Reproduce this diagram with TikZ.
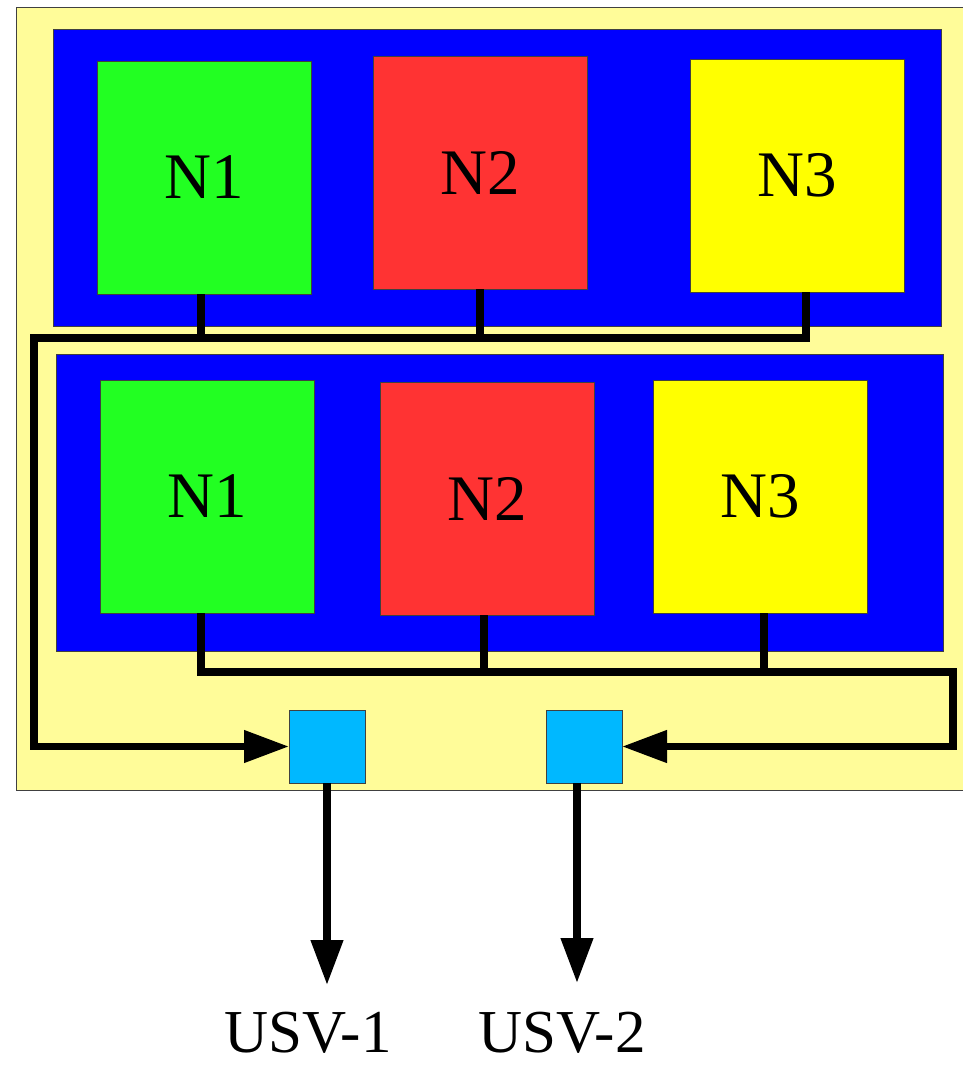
\documentclass[tikz,border=0pt]{standalone}
\usepackage{fontspec}
\setmainfont{Liberation Serif}
\usetikzlibrary{arrows.meta}
\definecolor{bgyellow}{HTML}{FFFC99}
\definecolor{panelblue}{HTML}{0000FF}
\definecolor{ngreen}{HTML}{22FF22}
\definecolor{nred}{HTML}{FF3333}
\definecolor{nyellow}{HTML}{FFFF00}
\definecolor{usvcyan}{HTML}{00B8FF}
\definecolor{edge}{HTML}{404040}
\begin{document}
\begin{tikzpicture}[x=1pt,y=-1pt,
  box/.style={draw=edge,line width=1pt,anchor=north west,inner sep=0pt,outer sep=0pt},
  nodebox/.style={box,minimum width=214,minimum height=233,font=\fontsize{65}{78}\selectfont},
  usvbox/.style={box,fill=usvcyan,minimum width=76,minimum height=73},
  bus/.style={line width=7.5pt,line join=miter},
  busarrow/.style={bus,-{Triangle[length=45pt,width=31pt]}},
  lbl/.style={anchor=base,inner sep=0pt,font=\fontsize{61}{73}\selectfont}]
\useasboundingbox (0,0) rectangle (963,1066);
\fill[white] (0,0) rectangle (963,1066);
% background frame
\node[box,fill=bgyellow,minimum width=960,minimum height=783] (frame) at (16,7) {};
% panels
\node[box,fill=panelblue,minimum width=888,minimum height=297] (ptop) at (53,29) {};
\node[box,fill=panelblue,minimum width=887,minimum height=297] (pbot) at (56,354) {};
% top row nodes
\node[nodebox,fill=ngreen] (t1) at (97,61) {N1};
\node[nodebox,fill=nred] (t2) at (373,56) {N2};
\node[nodebox,fill=nyellow] (t3) at (690,59) {N3};
% bottom row nodes
\node[nodebox,fill=ngreen] (b1) at (100,380) {N1};
\node[nodebox,fill=nred] (b2) at (380,382) {N2};
\node[nodebox,fill=nyellow] (b3) at (653,380) {N3};
% USV boxes
\node[usvbox] (u1) at (289,710) {};
\node[usvbox] (u2) at (546,710) {};
% labels
\node[lbl] (l1) at (308,1052) {USV-1};
\node[lbl] (l2) at (562,1052) {USV-2};
% top bus
\coordinate (tb) at (34,338);
\draw[bus] ([xshift=-3]t1.south) -- ([xshift=-3]t1.south |- tb);
\draw[bus] (t2.south) -- (t2.south |- tb);
\draw[busarrow] ([xshift=9]t3.south) |- (tb) |- (u1.west);
% bottom bus
\coordinate (bb) at (953,672);
\draw[bus] ([xshift=-3]b2.south) -- ([xshift=-3]b2.south |- bb);
\draw[bus] ([xshift=4]b3.south) -- ([xshift=4]b3.south |- bb);
\draw[busarrow] ([xshift=-6]b1.south) |- (bb) |- (u2.east);
% outputs
\coordinate (o1) at (327,985);
\coordinate (o2) at (577,983);
\draw[busarrow] (u1.south -| o1) -- (o1);
\draw[busarrow] (u2.south -| o2) -- (o2);
\end{tikzpicture}
\end{document}
